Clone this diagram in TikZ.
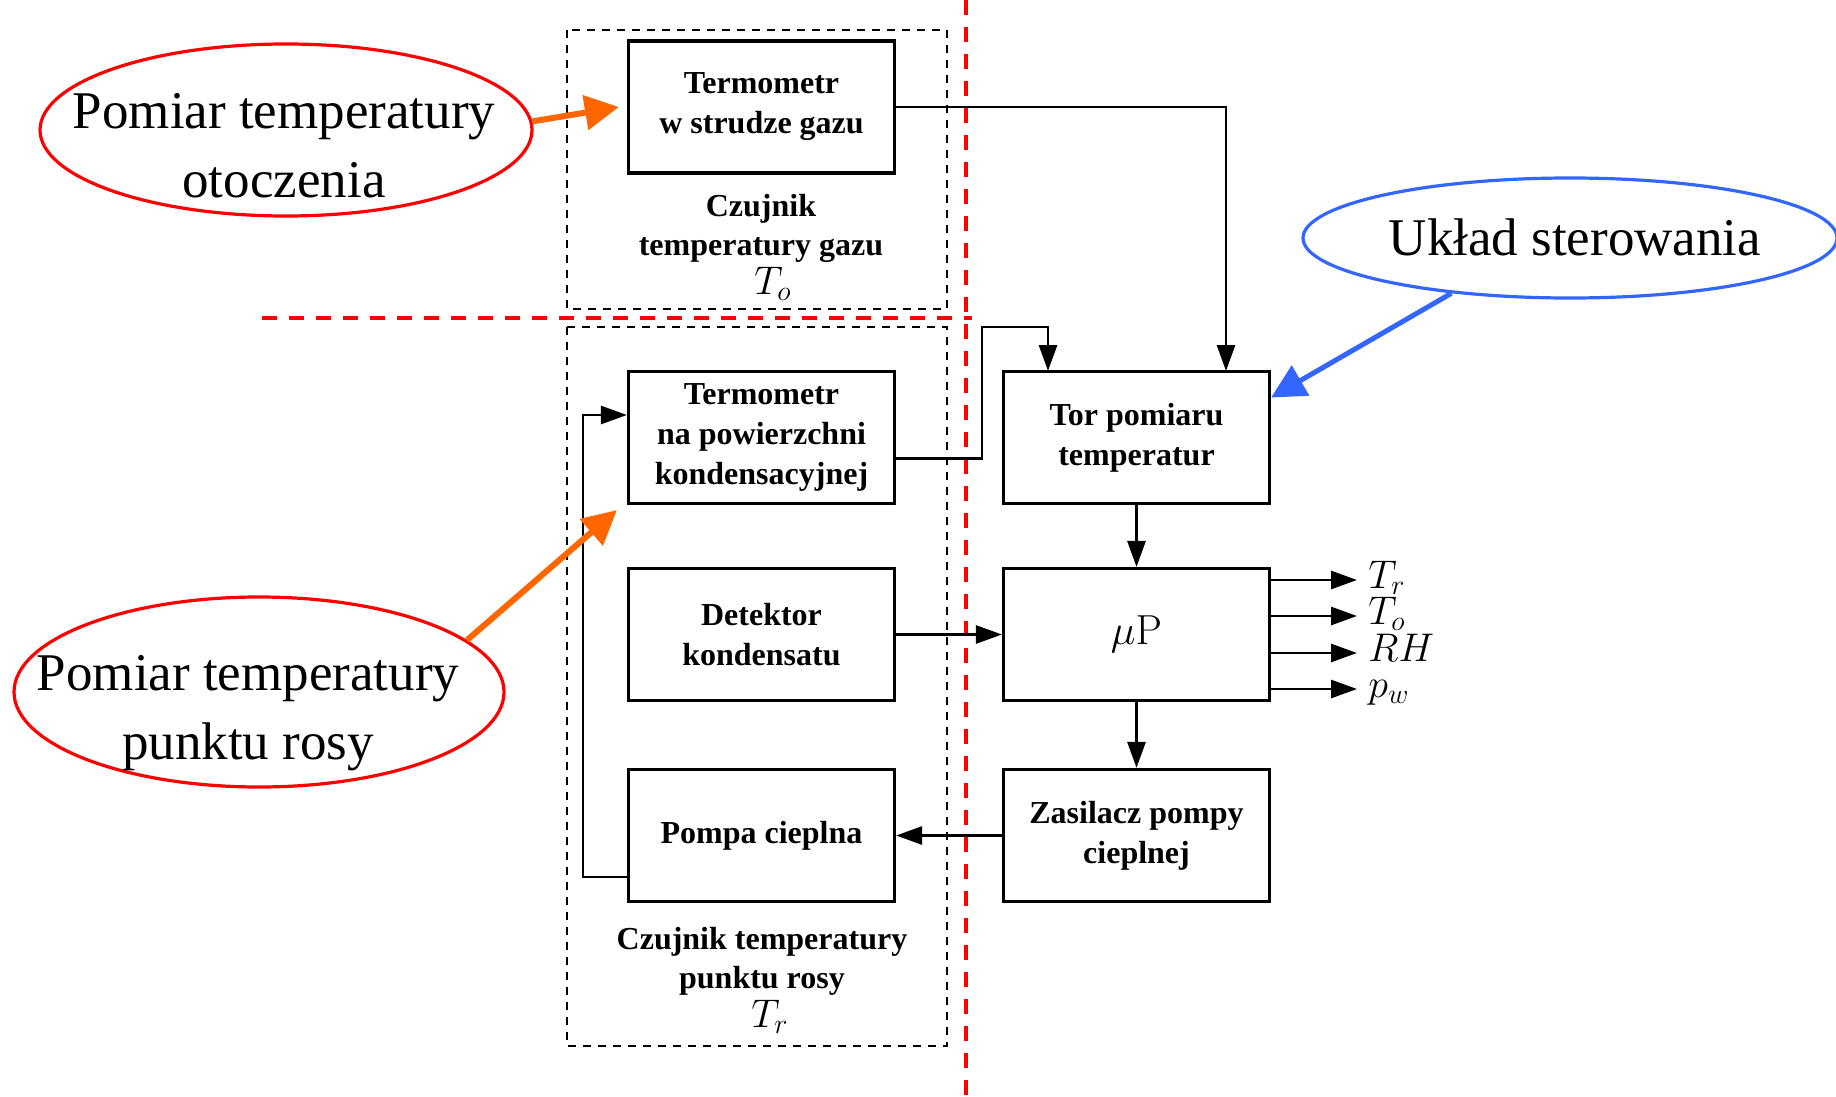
\RequirePackage{fix-cm}
\documentclass[tikz,border=0pt]{standalone}
\usepackage[no-math]{fontspec}
\setmainfont{Liberation Serif}
\usepackage{amsmath}
\usepackage{tikz}
\usepackage{xcolor}
\usetikzlibrary{arrows.meta,shapes.geometric}

\definecolor{pomarancz}{RGB}{255,102,0}
\definecolor{niebieski}{RGB}{51,102,255}

\begin{document}
\begin{tikzpicture}[x=0.5pt,y=-0.5pt,
		blok/.style={draw, line width=1.6pt, minimum width=133pt, minimum height=66pt, inner sep=0pt, align=center, font=\fontsize{16}{20}\selectfont\bfseries},
		opis/.style={align=center, font=\fontsize{16}{19.5}\selectfont\bfseries},
		strzalka/.style={line width=1.4pt, -{Triangle[length=13pt,width=9pt]}},
		ramka/.style={line width=0.8pt, dash pattern=on 4pt off 3.5pt},
		podzial/.style={red, line width=2pt, dash pattern=on 7.5pt off 6pt},
		chmurka/.style={ellipse, draw, line width=1.6pt, inner sep=0pt},
		dymek/.style={align=center, font=\fontsize{26.5}{34.5}\selectfont},
		wskaz/.style={line width=3pt, -{Triangle[length=17pt,width=17pt]}},
		wyjscie/.style={anchor=west, inner sep=0pt, xshift=5pt, text height=11pt, text depth=3pt, font=\fontsize{20}{20}\selectfont}]
				\useasboundingbox (0,0) rectangle (1836,1097);
				\clip (0,0) rectangle (1836,1097);
				
				% Gas temperature sensor
				\draw[ramka] (567,30) rectangle (947,309);
				\node[blok] (gaz) at (761.5,107) {Termometr\\w strudze gazu};
				\node[opis] (capgaz) at (761,247) {Czujnik\\temperatury gazu\\\hspace*{12pt}{\fontsize{20}{20}\selectfont$T_o$}};
				
				% Dew point sensor
				\draw[ramka] (567,327) rectangle (947,1046);
				\node[blok] (pow) at (761.5,437.5) {Termometr\\na powierzchni\\kondensacyjnej};
				\node[blok] (det) at (761.5,634.5) {Detektor\\kondensatu};
				\node[blok] (pompa) at (761.5,835.5) {Pompa cieplna};
				\node[opis] (caprosy) at (762,980) {Czujnik temperatury\\punktu rosy\\\hspace*{8pt}{\fontsize{20}{20}\selectfont$T_r$}};
				
				% Control part
				\node[blok] (tor) at (1136.5,437.5) {Tor pomiaru\\temperatur};
				\node[blok, font=\fontsize{21}{22}\selectfont] (mup) at (1136.5,634.5) {$\mu\mathrm{P}$};
				\node[blok] (zas) at (1136.5,835.5) {Zasilacz pompy\\cieplnej};
				
				% Split lines
				\draw[podzial] (966,0) -- (966,1097);
				\draw[podzial] (262,318) -- (972,318);
				
				% Signal paths
				\coordinate (torwe1) at (1048,371);
				\coordinate (torwe2) at (1226,371);
				\coordinate (zagiecie) at (982,327);
				\coordinate (powrot) at (583,415);
				\draw[strzalka] (gaz.east) -| (torwe2);
				\draw[strzalka] ([yshift=-10.5pt]pow.east) -| (zagiecie) -| (torwe1);
				\draw[strzalka] (tor) -- (mup);
				\draw[strzalka] (det) -- (mup);
				\draw[strzalka] (mup) -- (zas);
				\draw[strzalka] (zas) -- (pompa);
				\draw[strzalka] ([yshift=-20.75pt]pompa.west) -| (powrot) -- ([yshift=11.25pt]pow.west);
				
				% Outputs
				\foreach \y/\lab in {580/T_r, 616/T_o, 653/RH, 689/p_w}
					\draw[strzalka] (mup.east |- 0,\y) -- (1357,\y) node[wyjscie] (out\y) {$\lab$};
				
				% Callouts
				\node[chmurka, red, minimum width=246pt, minimum height=86pt] (elot) at (286,130) {};
				\node[dymek] (tekot) at (284,146) {Pomiar temperatury\\otoczenia};
				\draw[wskaz, pomarancz] (elot.2) -- ([xshift=-4pt]gaz.west);
				
				\node[chmurka, red, minimum width=245pt, minimum height=95pt] (elrosy) at (259,692) {};
				\node[dymek] (tekrosy) at (248,713) {Pomiar temperatury\\punktu rosy};
				\draw[wskaz, pomarancz] (elrosy.14) -- ([xshift=-5pt,yshift=-2.5pt]pow.south west);
				
				\node[chmurka, niebieski, minimum width=267pt, minimum height=60pt] (elster) at (1570,238) {};
				\node[dymek] (tekster) at (1575,237) {Układ sterowania};
				\draw[wskaz, niebieski, line width=2.5pt] (elster.205) -- ([yshift=20pt]tor.east);
			\end{tikzpicture}
\end{document}
